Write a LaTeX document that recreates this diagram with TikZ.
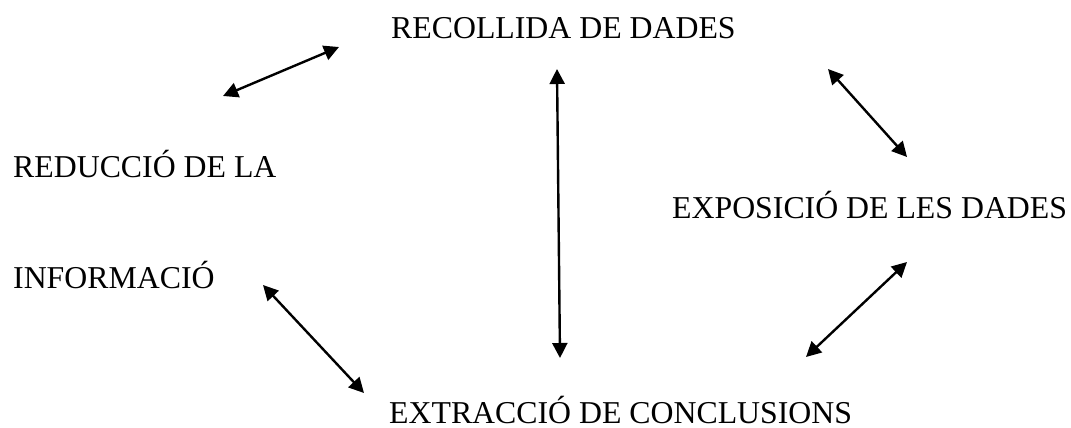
\documentclass[tikz,border=0pt]{standalone}
\usepackage{fontspec}
\setmainfont{Liberation Serif}
\usetikzlibrary{arrows.meta}
\begin{document}
\begin{tikzpicture}[x=1pt,y=-1pt,
  lbl/.style={anchor=base west,inner sep=0pt,font=\fontsize{31.8}{38}\selectfont},
  dbl/.style={line width=2.4pt,{Triangle[length=15pt,width=15pt]}-{Triangle[length=15pt,width=15pt]}}]
\useasboundingbox (0,0) rectangle (1071,428);
\node[lbl] (rec) at (391,39) {RECOLLIDA DE DADES};
\node[lbl] (red) at (13,177) {REDUCCIÓ DE LA};
\node[lbl] (inf) at (13,288) {INFORMACIÓ};
\node[lbl] (exp) at (672,218) {EXPOSICIÓ DE LES DADES};
\node[lbl] (ext) at (389,423) {EXTRACCIÓ DE CONCLUSIONS};
\coordinate (a1) at (223,96);  \coordinate (b1) at (339,47);
\coordinate (a2) at (557,69);  \coordinate (b2) at (560,358);
\coordinate (a3) at (828,69);  \coordinate (b3) at (907,157);
\coordinate (a4) at (263,285); \coordinate (b4) at (364,393);
\coordinate (a5) at (907,262); \coordinate (b5) at (806,357);
\draw[dbl] (a1) -- (b1);
\draw[dbl] (a2) -- (b2);
\draw[dbl] (a3) -- (b3);
\draw[dbl] (a4) -- (b4);
\draw[dbl] (a5) -- (b5);
\end{tikzpicture}
\end{document}
